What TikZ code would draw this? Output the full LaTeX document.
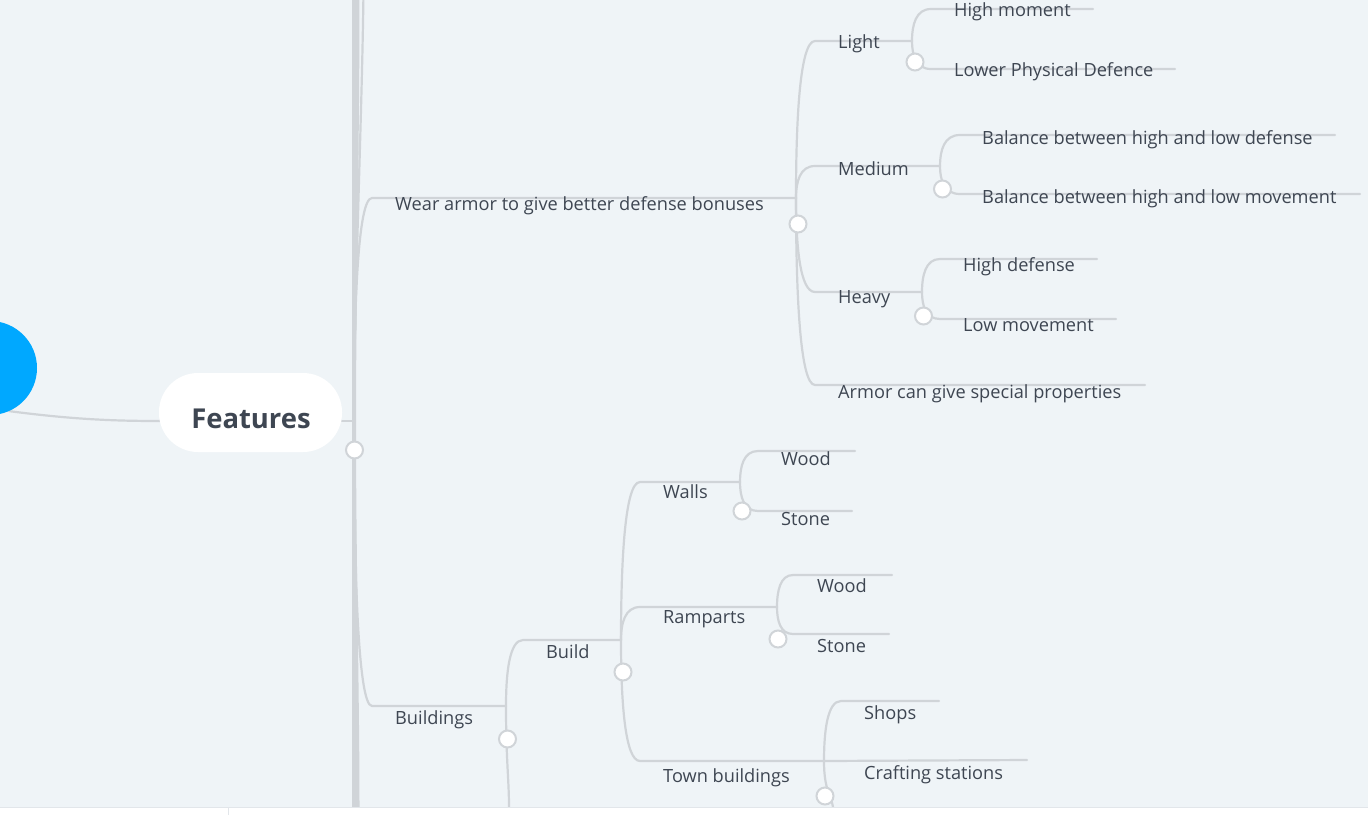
\documentclass[tikz,border=0pt]{standalone}
\usepackage{fontspec}
\setmainfont{Open Sans}
\usetikzlibrary{calc}
\definecolor{bgc}{RGB}{239,244,247}
\definecolor{ln}{RGB}{208,212,216}
\definecolor{tx}{RGB}{62,70,82}
\definecolor{rootblue}{RGB}{0,168,255}
\pgfdeclarelayer{back}
\pgfsetlayers{back,main}
\tikzset{
 link/.style={draw=ln, line width=2.2pt, line cap=round},
 trunk/.style={draw=ln, line width=4pt, line cap=butt},
 br/.style={to path={.. controls ($(\tikztostart)!0.5!(\tikztostart|-\tikztotarget)$) and ($(\tikztotarget)!0.8!(\tikztostart|-\tikztotarget)$) .. (\tikztotarget) \tikztonodes}},
 lbl/.style={anchor=base west, inner sep=0pt, text=tx, font=\fontsize{18.2}{22}\selectfont},
 knob/.style={circle, draw=ln, line width=2pt, fill=white, minimum size=17pt, inner sep=0pt},
 pill/.style={rectangle, rounded corners=39pt, fill=white, minimum width=183pt, minimum height=79pt, inner sep=0pt},
}
\begin{document}
\begin{tikzpicture}[x=1pt,y=-1pt]
\useasboundingbox (0,0) rectangle (1368,815);
\begin{pgfonlayer}{back}
\fill[bgc] (0,0) rectangle (1368,815);
\end{pgfonlayer}
% root and features
\node[circle, fill=rootblue, minimum size=94pt, inner sep=0pt] (root) at (-10,368) {};
\node[pill] (feat) at (250.5,412.5) {};
\node[anchor=base, inner sep=0pt, text=tx, font=\bfseries\fontsize{27.4}{32}\selectfont] (featT) at (251,428) {Features};
\coordinate (featIn) at (160,421);
\coordinate (featOut) at (342,421);
\coordinate (fT) at (354,421);
\coordinate (upA) at (354,-10);
\coordinate (upB) at (357.5,-10);
\coordinate (upC) at (363.5,-10);
\coordinate (dnA) at (354,807);
\coordinate (dnB) at (357.5,807);
% level 1
\coordinate (waS) at (372,198);
\coordinate (waT) at (796,198);
\node[lbl] (wa) at (395,210) {Wear armor to give better defense bonuses};
\coordinate (buS) at (372,706);
\coordinate (buT) at (506,706);
\coordinate (buD) at (509,807);
\node[lbl] (bu) at (395,724) {Buildings};
% armor children
\coordinate (liS) at (815,41);   \coordinate (liT) at (912,41);
\node[lbl] (li) at (838,48) {Light};
\coordinate (hmS) at (931,9);    \coordinate (hmE) at (1093,9);
\node[lbl] (hm) at (954,16) {High moment};
\coordinate (lpS) at (931,69);   \coordinate (lpE) at (1175,69);
\node[lbl] (lp) at (954,76) {Lower Physical Defence};
\coordinate (meS) at (815,166);  \coordinate (meT) at (940,166);
\node[lbl] (me) at (838,175) {Medium};
\coordinate (bdS) at (960,135);  \coordinate (bdE) at (1335,135);
\node[lbl] (bd) at (982,144) {Balance between high and low defense};
\coordinate (bmS) at (960,194);  \coordinate (bmE) at (1360,194);
\node[lbl] (bm) at (982,203) {Balance between high and low movement};
\coordinate (heS) at (815,292);  \coordinate (heT) at (922,292);
\node[lbl] (he) at (838,303) {Heavy};
\coordinate (hdS) at (940,259);  \coordinate (hdE) at (1097,259);
\node[lbl] (hd) at (963,271) {High defense};
\coordinate (lmS) at (940,319);  \coordinate (lmE) at (1116,319);
\node[lbl] (lm) at (963,331) {Low movement};
\coordinate (arS) at (815,385);  \coordinate (arE) at (1145,385);
\node[lbl] (ar) at (838,398) {Armor can give special properties};
% buildings children
\coordinate (bbS) at (523,640);  \coordinate (bbT) at (621,640);
\node[lbl] (bb) at (546,658) {Build};
\coordinate (waS2) at (640,482); \coordinate (waT2) at (740,482);
\node[lbl] (wl) at (663,498) {Walls};
\coordinate (w1S) at (758,451);  \coordinate (w1E) at (855,451);
\node[lbl] (w1) at (781,465) {Wood};
\coordinate (s1S) at (758,511);  \coordinate (s1E) at (852,511);
\node[lbl] (s1) at (781,525) {Stone};
\coordinate (raS) at (640,607);  \coordinate (raT) at (777,607);
\node[lbl] (ra) at (663,623) {Ramparts};
\coordinate (w2S) at (793,575);  \coordinate (w2E) at (892,575);
\node[lbl] (w2) at (817,592) {Wood};
\coordinate (s2S) at (793,634);  \coordinate (s2E) at (889,634);
\node[lbl] (s2) at (817,652) {Stone};
\coordinate (tbS) at (640,761);  \coordinate (tbT) at (824,761);
\node[lbl] (tb) at (663,782) {Town buildings};
\coordinate (shS) at (841,701);  \coordinate (shE) at (939,701);
\node[lbl] (sh) at (864,719) {Shops};
\coordinate (crE) at (1027,760);
\node[lbl] (cr) at (864,779) {Crafting stations};
\coordinate (tbD) at (833,807);
% connectors
\begin{pgfonlayer}{back}
\draw[link] (root.-66) .. controls (70,419) and (110,421) .. (featIn);
\draw[link] (featOut) -- (fT);
\draw[trunk] (fT) -- (upA);
\draw[trunk] (fT) -- (dnA);
\draw[trunk] (fT) .. controls (354,300) and (357.5,150) .. (upB);
\draw[trunk] (fT) .. controls (354,560) and (357.5,700) .. (dnB);
\draw[link] (fT) .. controls (354,300) and (362,120) .. (upC);
\draw[link] (fT) to[br] (waS) -- (waT);
\draw[link] (fT) to[br] (buS) -- (buT);
\draw[link] (waT) to[br] (liS) -- (liT);
\draw[link] (liT) to[br] (hmS) -- (hmE);
\draw[link] (liT) to[br] (lpS) -- (lpE);
\draw[link] (waT) to[br] (meS) -- (meT);
\draw[link] (meT) to[br] (bdS) -- (bdE);
\draw[link] (meT) to[br] (bmS) -- (bmE);
\draw[link] (waT) to[br] (heS) -- (heT);
\draw[link] (heT) to[br] (hdS) -- (hdE);
\draw[link] (heT) to[br] (lmS) -- (lmE);
\draw[link] (waT) to[br] (arS) -- (arE);
\draw[link] (buT) to[br] (bbS) -- (bbT);
\draw[link, line cap=butt] (buT) .. controls (506,760) and (509,780) .. (buD);
\draw[link] (bbT) to[br] (waS2) -- (waT2);
\draw[link] (waT2) to[br] (w1S) -- (w1E);
\draw[link] (waT2) to[br] (s1S) -- (s1E);
\draw[link] (bbT) to[br] (raS) -- (raT);
\draw[link] (raT) to[br] (w2S) -- (w2E);
\draw[link] (raT) to[br] (s2S) -- (s2E);
\draw[link] (bbT) to[br] (tbS) -- (tbT);
\draw[link] (tbT) to[br] (shS) -- (shE);
\draw[link] (tbT) -- (crE);
\draw[link, line cap=butt] (tbT) .. controls (824,790) and (831,795) .. (tbD);
\end{pgfonlayer}
% collapse knobs
\node[knob] (fK) at (354.5,450) {};
\node[knob] (waK) at (798,224) {};
\node[knob] (liK) at (915,62) {};
\node[knob] (meK) at (942.5,189) {};
\node[knob] (heK) at (923.5,316) {};
\node[knob] (buK) at (507.5,739) {};
\node[knob] (bbK) at (623,672) {};
\node[knob] (wlK) at (742,511) {};
\node[knob] (raK) at (778,639) {};
\node[knob] (tbK) at (825,796) {};
% bottom bar
\fill[white] (0,807.5) rectangle (1368,815);
\draw[draw={rgb,255:red,226;green,230;blue,234}, line width=1pt] (0,807.5) -- (1368,807.5);
\draw[draw={rgb,255:red,226;green,230;blue,234}, line width=0.8pt] (228.5,808) -- (228.5,815);
\end{tikzpicture}
\end{document}
